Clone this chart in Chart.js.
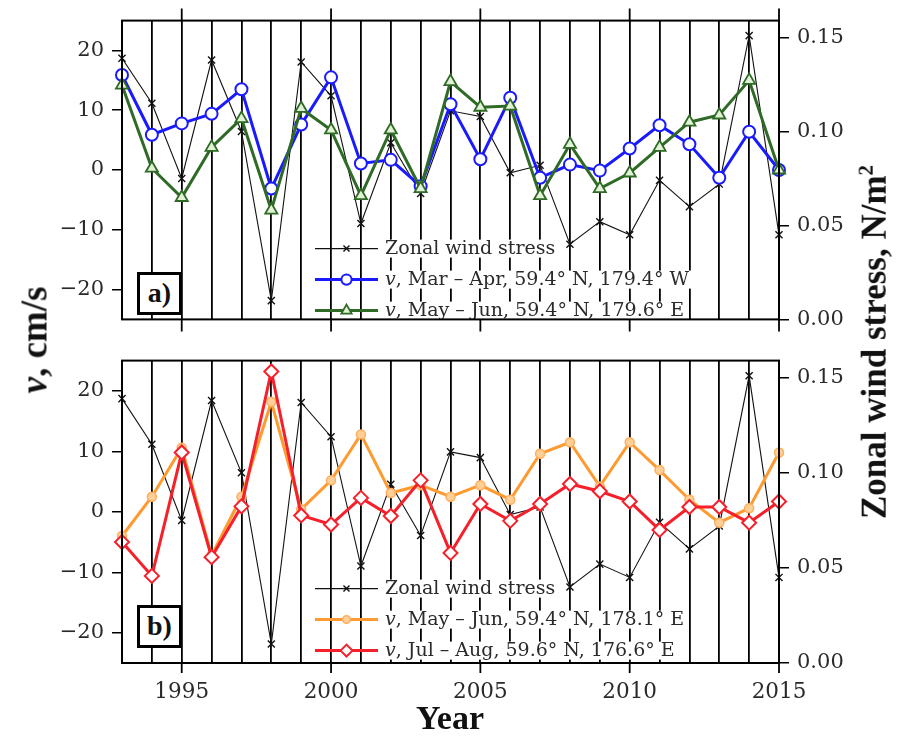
<!DOCTYPE html>
<html lang="en">
<head>
<meta charset="utf-8">
<title>Meridional velocity v and zonal wind stress</title>
<script src="https://cdn.jsdelivr.net/npm/chart.js@4.4.0/dist/chart.umd.min.js"></script>
<style>
  body { margin: 0; background: #fff; }
  #wrap { position: relative; width: 898px; height: 739px; overflow: hidden; font-family: "Liberation Serif", serif; color: #111; }
  canvas { position: absolute; left: 0; }
  #panelA { top: 0; }
  #panelB { top: 340px; }
  .tag { position: absolute; left: 137px; width: 39px; height: 37px; border: 3px solid #000; background: #fff;
         font: bold 28px "Liberation Serif", serif; text-align: center; line-height: 36px; }
  .ytitle { position: absolute; font-weight: bold; white-space: nowrap; transform: translate(-50%, -50%) rotate(-90deg); }
  #xtitle { position: absolute; left: 450px; top: 701px; transform: translateX(-50%); font: bold 34px "Liberation Serif", serif; line-height: 1; }
</style>
</head>
<body>
<div id="wrap">
  <canvas id="panelA" width="898" height="340"></canvas>
  <canvas id="panelB" width="898" height="399"></canvas>
  <div class="tag" style="top:272px">a)</div>
  <div class="tag" style="top:605px">b)</div>
  <div class="ytitle" style="left:34px; top:340px; font-size:37px"><i>v</i>, cm/s</div>
  <div class="ytitle" style="left:874px; top:342px; font-size:35px">Zonal wind stress, N/m<sup style="font-size:60%">2</sup></div>
  <div id="xtitle">Year</div>
</div>

<script>
// yearly values, 1993-2015
var years = [1993, 1994, 1995, 1996, 1997, 1998, 1999, 2000, 2001, 2002, 2003, 2004,
             2005, 2006, 2007, 2008, 2009, 2010, 2011, 2012, 2013, 2014, 2015];

// zonal wind stress, N/m^2 (right axis, same in both panels)
var windStress = [0.139, 0.115, 0.075, 0.138, 0.100, 0.010, 0.137, 0.119, 0.051, 0.094, 0.067, 0.111,
                  0.108, 0.078, 0.082, 0.040, 0.052, 0.045, 0.074, 0.060, 0.072, 0.151, 0.045];

// v, cm/s
var vMarApr = [15.9, 5.9, 7.8, 9.4, 13.5, -3.1, 7.6, 15.5, 1.1, 1.7, -2.7, 11.0,
               1.8, 12.1, -1.3, 0.9, -0.1, 3.6, 7.5, 4.3, -1.3, 6.4, 0.0];
var vMayJun1796E = [14.2, 0.3, -4.6, 3.8, 8.6, -6.7, 10.3, 6.7, -4.3, 6.7, -3.1, 14.8,
                    10.5, 10.7, -4.3, 4.3, -3.1, -0.5, 3.8, 8.0, 9.2, 15.0, 0.0];
var vMayJun1781E = [-4.0, 2.5, 10.6, -7.2, 2.5, 18.2, 0.4, 5.2, 12.8, 3.1, 4.4, 2.5,
                    4.4, 2.0, 9.6, 11.5, 4.2, 11.5, 6.9, 2.0, -1.8, 0.6, 9.8];
var vJulAug = [-5.0, -10.6, 9.8, -7.5, 0.9, 23.2, -0.6, -2.1, 2.3, -0.7, 5.2, -6.8,
               1.3, -1.5, 1.3, 4.6, 3.4, 1.7, -3.0, 0.8, 0.8, -1.8, 1.7];

var vTicks = [-20, -10, 0, 10, 20];
var stressTicks = [0, 0.05, 0.10, 0.15];
var yearLabels = [1995, 2000, 2005, 2010, 2015];

Chart.defaults.font.family = '"DejaVu Serif", serif';
Chart.defaults.font.size = 21;
Chart.defaults.color = '#2a2a2a';
Chart.defaults.animation = false;

function points(values) {
  return years.map(function (yr, i) { return { x: yr, y: values[i] }; });
}

function stressSet() {
  return {
    label: 'Zonal wind stress', data: points(windStress), yAxisID: 'tau', order: 3,
    borderColor: '#111', borderWidth: 1.1, pointStyle: 'crossRot', pointRadius: 5,
    pointBorderColor: '#111', pointBorderWidth: 1.4, clip: false
  };
}

var LEGEND_FONT = '19px "DejaVu Serif", serif';

// box, outer year ticks and in-plot legend
var framePlugin = {
  id: 'frame',
  beforeDatasetsDraw: function (chart, args, opts) {
    var ctx = chart.ctx, a = chart.chartArea;
    ctx.save();
    chart.data.datasets.forEach(function (ds, i) {
      var y = a.top + 228 + i * 31;
      var x0 = a.left + 193, x1 = a.left + 256, tx = a.left + 263;
      var label = ds.label, lead = '';
      if (label.indexOf('v,') === 0) { lead = 'v'; label = label.slice(1); }
      ctx.font = 'italic ' + LEGEND_FONT;
      var wl = lead ? ctx.measureText(lead).width : 0;
      ctx.font = LEGEND_FONT;
      var wr = ctx.measureText(label).width;
      ctx.fillStyle = '#fff';
      ctx.fillRect(tx - 2, y - 9, wl + wr + 4, 18);

      ctx.strokeStyle = ds.borderColor;
      ctx.lineWidth = ds.borderWidth;
      ctx.beginPath(); ctx.moveTo(x0, y); ctx.lineTo(x1, y); ctx.stroke();
      ctx.fillStyle = ds.pointBackgroundColor || '#fff';
      ctx.strokeStyle = ds.pointBorderColor || ds.borderColor;
      ctx.lineWidth = ds.pointBorderWidth;
      Chart.helpers.drawPoint(ctx, { pointStyle: ds.pointStyle, radius: ds.pointRadius * 0.85, rotation: 0, borderWidth: ds.pointBorderWidth }, (x0 + x1) / 2, y);

      ctx.fillStyle = '#2a2a2a';
      ctx.textBaseline = 'middle';
      ctx.textAlign = 'left';
      if (lead) { ctx.font = 'italic ' + LEGEND_FONT; ctx.fillText(lead, tx, y); }
      ctx.font = LEGEND_FONT;
      ctx.fillText(label, tx + wl, y);
    });
    ctx.restore();
  },
  afterDraw: function (chart, args, opts) {
    var ctx = chart.ctx, a = chart.chartArea, xs = chart.scales.x;
    ctx.save();
    ctx.strokeStyle = '#000';
    ctx.lineWidth = 2;
    ctx.strokeRect(a.left, a.top, a.right - a.left, a.bottom - a.top);
    ctx.lineWidth = 1.8;
    yearLabels.forEach(function (yr) {
      var x = xs.getPixelForValue(yr);
      ctx.beginPath();
      if (opts.topTick) { ctx.moveTo(x, a.top - opts.topTick); ctx.lineTo(x, a.top); }
      ctx.moveTo(x, a.bottom); ctx.lineTo(x, a.bottom + opts.bottomTick);
      ctx.stroke();
    });
    ctx.restore();
  }
};

function drawPanel(id, datasets, padTop, xHeight, showYears, topTick, bottomTick) {
  return new Chart(document.getElementById(id), {
    type: 'line',
    data: { datasets: datasets },
    plugins: [framePlugin],
    options: {
      responsive: false,
      layout: { padding: { top: padTop, left: 0, right: 0, bottom: 0 } },
      plugins: {
        legend: { display: false },
        tooltip: { enabled: false },
        frame: { topTick: topTick, bottomTick: bottomTick }
      },
      scales: {
        x: {
          type: 'linear', min: 1993, max: 2015,
          afterBuildTicks: function (s) { s.ticks = years.map(function (v) { return { value: v }; }); },
          afterFit: function (s) { s.height = xHeight; },
          grid: { color: '#000', lineWidth: 1.8, drawTicks: false },
          border: { display: false },
          ticks: {
            display: showYears, autoSkip: false, maxRotation: 0, padding: 17, font: { size: 21.5 },
            callback: function (v) { return yearLabels.indexOf(v) >= 0 ? String(v) : ''; }
          }
        },
        v: {
          position: 'left', min: -25, max: 25,
          afterBuildTicks: function (s) { s.ticks = vTicks.map(function (v) { return { value: v }; }); },
          afterFit: function (s) { s.width = 122; },
          grid: { drawOnChartArea: false, tickLength: 10, color: '#000', lineWidth: 1.5 },
          border: { display: false },
          ticks: { padding: 8, callback: function (v) { return v < 0 ? '\u2212' + Math.abs(v) : String(v); } }
        },
        tau: {
          position: 'right', min: 0, max: 0.159,
          afterBuildTicks: function (s) { s.ticks = stressTicks.map(function (v) { return { value: v }; }); },
          afterFit: function (s) { s.width = 119; },
          grid: { drawOnChartArea: false, tickLength: 10, color: '#000', lineWidth: 1.5 },
          border: { display: false },
          ticks: { padding: 8, callback: function (v) { return v.toFixed(2); } }
        }
      }
    }
  });
}

// a) Mar-Apr and May-Jun
drawPanel('panelA', [
  stressSet(),
  {
    label: 'v, Mar \u2013 Apr, 59.4\u00b0 N, 179.4\u00b0 W', data: points(vMarApr), yAxisID: 'v', order: 2,
    borderColor: '#1a1aff', borderWidth: 3, pointStyle: 'circle', pointRadius: 6,
    pointBackgroundColor: '#fff', pointBorderColor: '#1a1aff', pointBorderWidth: 2, clip: false
  },
  {
    label: 'v, May \u2013 Jun, 59.4\u00b0 N, 179.6\u00b0 E', data: points(vMayJun1796E), yAxisID: 'v', order: 1,
    borderColor: '#2f6a26', borderWidth: 3, pointStyle: 'triangle', pointRadius: 7,
    pointBackgroundColor: '#e2f2d6', pointBorderColor: '#2f6a26', pointBorderWidth: 1.8, clip: false
  }
], 20, 10, false, 12, 12);

// b) May-Jun and Jul-Aug
drawPanel('panelB', [
  stressSet(),
  {
    label: 'v, May \u2013 Jun, 59.4\u00b0 N, 178.1\u00b0 E', data: points(vMayJun1781E), yAxisID: 'v', order: 2,
    borderColor: '#ff9a30', borderWidth: 3, pointStyle: 'circle', pointRadius: 4.5,
    pointBackgroundColor: '#ffcf98', pointBorderColor: '#ffae5c', pointBorderWidth: 1.5, clip: false
  },
  {
    label: 'v, Jul \u2013 Aug, 59.6\u00b0 N, 176.6\u00b0 E', data: points(vJulAug), yAxisID: 'v', order: 1,
    borderColor: '#f5202a', borderWidth: 3, pointStyle: 'rectRot', pointRadius: 7,
    pointBackgroundColor: '#fff', pointBorderColor: '#f5202a', pointBorderWidth: 2, clip: false
  }
], 14, 76, true, 0, 10);
</script>
</body>
</html>
